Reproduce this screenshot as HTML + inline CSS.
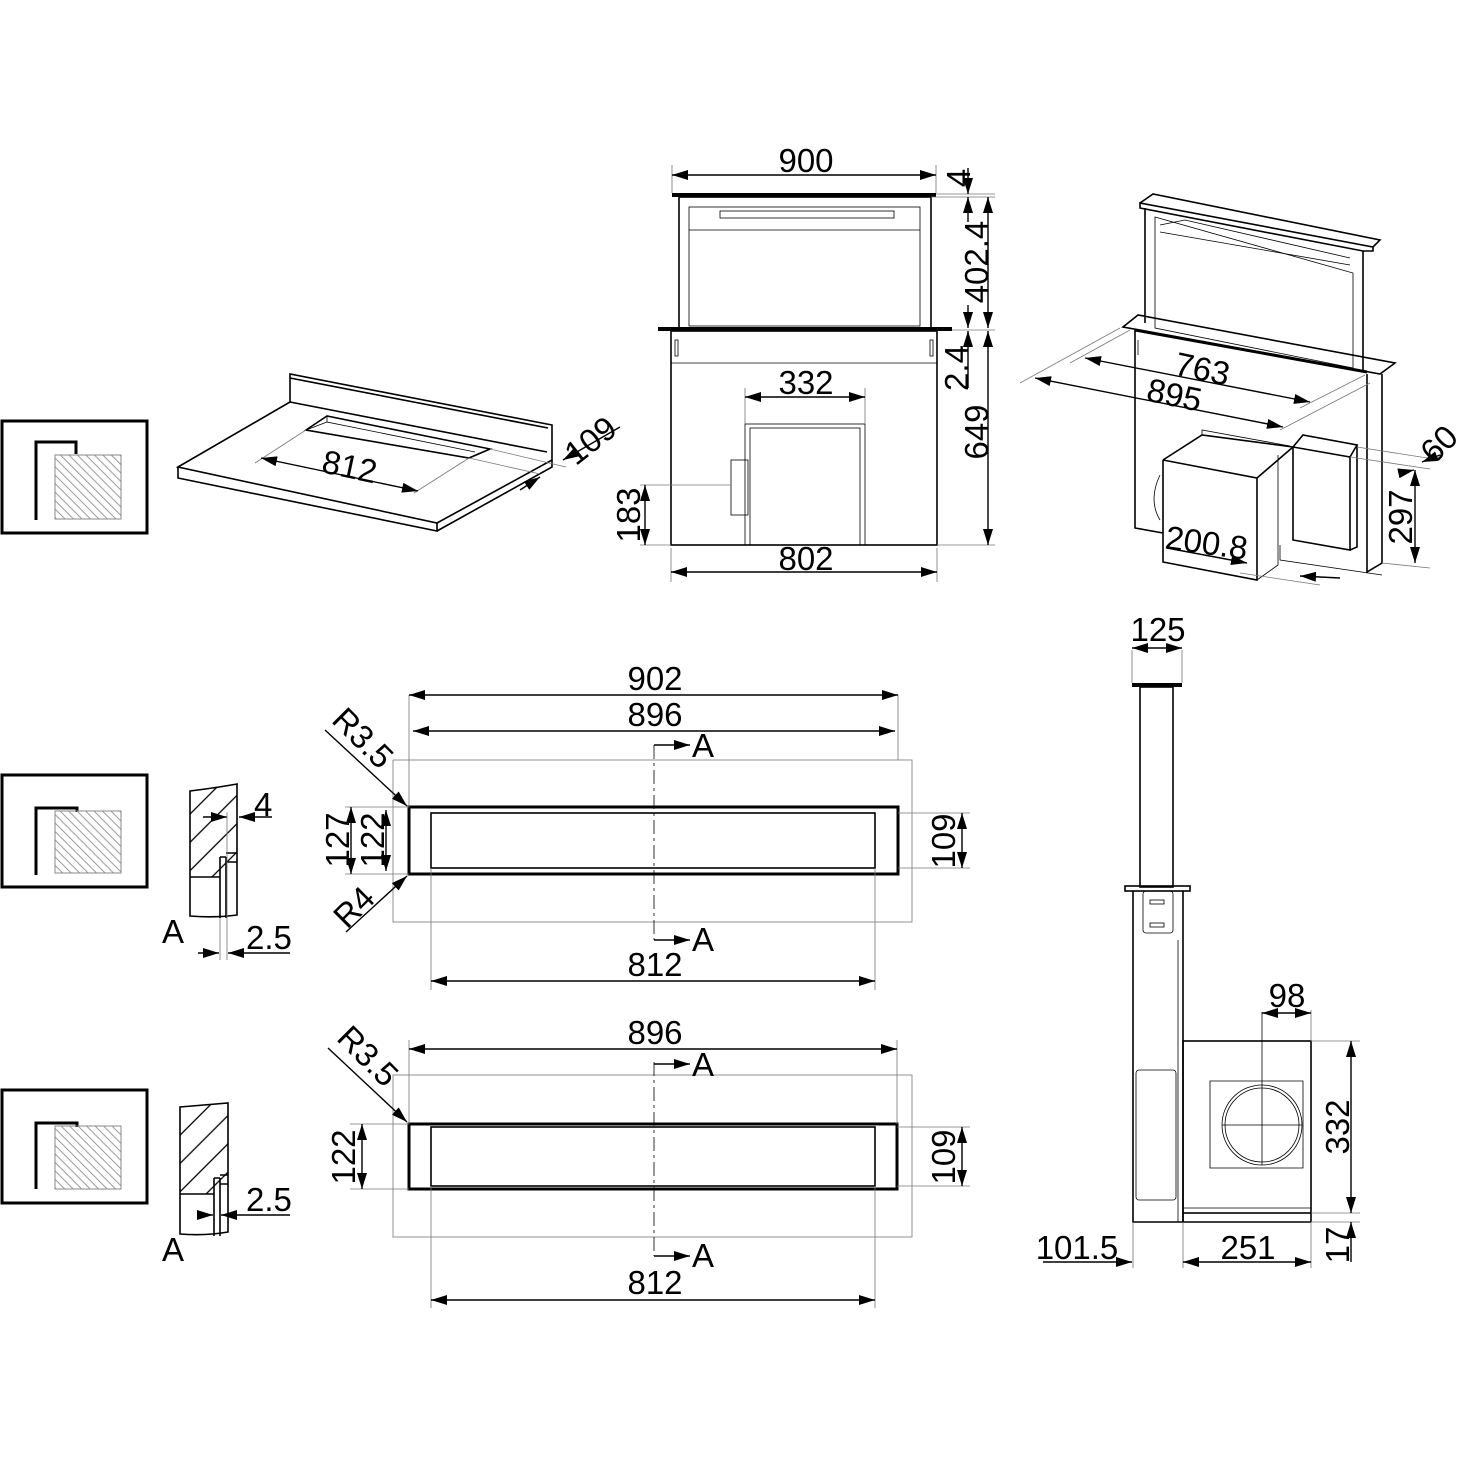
<!DOCTYPE html>
<html><head><meta charset="utf-8"><style>
html,body{margin:0;padding:0;background:#fff}
svg{display:block}
text{font-family:"Liberation Sans",sans-serif;font-size:33px;fill:#000}
.k{stroke:#000;fill:none;stroke-width:1.6}
.t{stroke:#000;fill:none;stroke-width:0.8}
.g{stroke:#777;fill:none;stroke-width:0.8}
.b{stroke:#000;fill:none;stroke-width:3}
.d{stroke:#000;fill:none;stroke-width:1.4}
</style></head><body>
<svg width="1459" height="1459" viewBox="0 0 1459 1459" xmlns="http://www.w3.org/2000/svg">
<defs>
<marker id="a" viewBox="0 0 16 10" refX="16" refY="5" markerWidth="16" markerHeight="10" markerUnits="userSpaceOnUse" orient="auto-start-reverse"><path d="M0,0L16,5L0,10z" fill="#000"/></marker>
<pattern id="h" width="6" height="6" patternUnits="userSpaceOnUse" patternTransform="rotate(-45)"><line x1="3" y1="0" x2="3" y2="6" stroke="#999" stroke-width="1"/></pattern>
<pattern id="h2" width="20" height="20" patternUnits="userSpaceOnUse" patternTransform="rotate(45)"><line x1="10" y1="0" x2="10" y2="20" stroke="#000" stroke-width="1.3"/></pattern>
</defs>

<g>
<rect x="2" y="421" width="145" height="112" class="b"/>
<path d="M36,520V442H76V454" class="b" stroke-width="2.5"/>
<rect x="55" y="455" width="66" height="64" fill="url(#h)" stroke="#888"/>
<rect x="2" y="775" width="145" height="112" class="b"/>
<path d="M36,875V808H77V812" class="b" stroke-width="2.5"/>
<rect x="55" y="811" width="66" height="62" fill="url(#h)" stroke="#888"/>
<rect x="2" y="1090" width="145" height="113" class="b"/>
<path d="M36,1189V1123H77V1127" class="b" stroke-width="2.5"/>
<rect x="55" y="1126" width="66" height="63" fill="url(#h)" stroke="#888"/>
</g>

<g>
<path d="M178,467L290,402V374L552,425V460L437,523L178,467Z" class="k"/>
<path d="M178,467V478L437,531V523M437,531L552,467V460" class="k"/>
<path d="M290,402L547,452M290,378L548,428" class="k"/>
<path d="M306,430L327,416L490,449L469,458L306,430Z" class="k"/>
<path d="M327,416V422L475,452M306,430L327,422" class="t"/>
<line x1="255" y1="463" x2="306" y2="430" class="g"/>
<line x1="414" y1="493" x2="469" y2="458" class="g"/>
<line x1="490" y1="449" x2="566" y2="467" class="g"/>
<line x1="469" y1="458" x2="540" y2="474" class="g"/>
<line x1="261" y1="458" x2="418" y2="491" class="d" marker-start="url(#a)" marker-end="url(#a)"/>
<text x="350" y="478" text-anchor="middle" transform="rotate(12 350 465)">812</text>
<line x1="520" y1="490" x2="540" y2="477" class="d" marker-end="url(#a)"/>
<line x1="620" y1="427" x2="563" y2="460" class="d" marker-end="url(#a)"/>
<text x="590" y="452" text-anchor="middle" transform="rotate(-38 590 440)">109</text>
</g>

<g>
<rect x="672" y="193" width="264" height="4" fill="#000"/>
<rect x="679" y="197" width="252" height="131" class="k"/>
<rect x="689" y="207" width="231" height="119" class="t"/>
<path d="M689,230H920" class="t"/>
<rect x="720" y="211" width="174" height="7" class="t"/>
<rect x="658" y="327" width="294" height="4" fill="#000"/>
<rect x="671" y="331" width="266" height="214" class="k"/>
<line x1="671" y1="363" x2="937" y2="363" class="t"/>
<rect x="675" y="340" width="3" height="16" class="t"/><rect x="930" y="340" width="3" height="16" class="t"/>
<rect x="745" y="424" width="120" height="121" class="t"/>
<rect x="750" y="428" width="110" height="117" class="t"/>
<rect x="731" y="460" width="17" height="55" class="t"/>
<line x1="640" y1="485" x2="731" y2="485" class="g"/>
<line x1="640" y1="545" x2="671" y2="545" class="g"/>
<line x1="745" y1="388" x2="745" y2="424" class="g"/><line x1="865" y1="388" x2="865" y2="424" class="g"/>
<line x1="672" y1="165" x2="672" y2="193" class="g"/><line x1="936" y1="165" x2="936" y2="193" class="g"/>
<line x1="672" y1="175" x2="936" y2="175" class="d" marker-start="url(#a)" marker-end="url(#a)"/>
<text x="806" y="172" text-anchor="middle">900</text>
<line x1="745" y1="397" x2="865" y2="397" class="d" marker-start="url(#a)" marker-end="url(#a)"/>
<text x="806" y="394" text-anchor="middle">332</text>
<line x1="671" y1="548" x2="671" y2="582" class="g"/><line x1="937" y1="548" x2="937" y2="582" class="g"/>
<line x1="671" y1="572" x2="937" y2="572" class="d" marker-start="url(#a)" marker-end="url(#a)"/>
<text x="806" y="570" text-anchor="middle">802</text>
<line x1="645" y1="485" x2="645" y2="545" class="d" marker-start="url(#a)" marker-end="url(#a)"/>
<text transform="translate(640,515) rotate(-90)" text-anchor="middle">183</text>
<line x1="936" y1="194" x2="995" y2="194" class="g"/>
<line x1="931" y1="197" x2="995" y2="197" class="g"/>
<line x1="952" y1="330" x2="995" y2="330" class="g"/>
<line x1="937" y1="545" x2="995" y2="545" class="g"/>
<line x1="968" y1="168" x2="968" y2="194" class="d" marker-end="url(#a)"/>
<line x1="968" y1="222" x2="968" y2="197" class="d" marker-end="url(#a)"/>
<line x1="968" y1="305" x2="968" y2="328" class="d" marker-end="url(#a)"/>
<line x1="968" y1="388" x2="968" y2="331" class="d" marker-end="url(#a)"/>
<line x1="988" y1="197" x2="988" y2="328" class="d" marker-start="url(#a)" marker-end="url(#a)"/>
<line x1="988" y1="331" x2="988" y2="545" class="d" marker-start="url(#a)" marker-end="url(#a)"/>
<text transform="translate(970,178) rotate(-90)" text-anchor="middle">4</text>
<text transform="translate(988,262) rotate(-90)" text-anchor="middle">402.4</text>
<text transform="translate(968,368) rotate(-90)" text-anchor="middle">2.4</text>
<text transform="translate(988,432) rotate(-90)" text-anchor="middle">649</text>
</g>

<g>
<path d="M1140,203L1153,194L1380,240L1373,247L1140,203V208L1363,251L1373,251V247" class="k"/>
<path d="M1145,208V323M1363,251V372" class="k"/>
<path d="M1155,217L1353,273V368L1155,328Z" class="t"/>
<path d="M1160,225L1185,220L1350,258M1160,232L1350,265" class="t"/>
<path d="M1123,327L1138,315L1395,363L1380,374Z" class="k"/>
<line x1="1135" y1="330" x2="1367" y2="372" stroke="#000" stroke-width="3"/>
<path d="M1135,330V528L1163,533M1367,374V572L1382,563V374" class="k"/>
<path d="M1138,340V355" class="t"/>
<path d="M1163,460L1202,435L1293,447M1163,460L1257,478L1293,447M1163,460V562L1257,580V478" class="k"/>
<path d="M1257,580L1278,565V455" class="t"/>
<path d="M1293,447L1303,435L1357,445L1350,457Z M1293,447V540L1350,550V457 M1357,445V547L1350,550" class="k"/>
<path d="M1202,435V430L1290,446" class="t"/>
<path d="M1280,545V560L1382,575" class="t"/>
<path d="M1160,475Q1148,500 1160,520" class="t"/>
<line x1="1020" y1="383" x2="1120" y2="328" class="g"/>
<line x1="1070" y1="363" x2="1130" y2="330" class="g"/>
<line x1="1280" y1="430" x2="1370" y2="383" class="g"/>
<line x1="1300" y1="408" x2="1365" y2="375" class="g"/>
<line x1="1085" y1="358" x2="1310" y2="402" class="d" marker-start="url(#a)" marker-end="url(#a)"/>
<text transform="translate(1200,380) rotate(12)" text-anchor="middle">763</text>
<line x1="1035" y1="378" x2="1283" y2="427" class="d" marker-start="url(#a)" marker-end="url(#a)"/>
<text transform="translate(1172,406) rotate(12)" text-anchor="middle">895</text>
<line x1="1350" y1="457" x2="1430" y2="469" class="g"/>
<line x1="1357" y1="447" x2="1440" y2="460" class="g"/>
<line x1="1382" y1="563" x2="1430" y2="568" class="g"/>
<line x1="1400" y1="473" x2="1414" y2="470" class="d" marker-end="url(#a)"/>
<line x1="1440" y1="455" x2="1422" y2="462" class="d" marker-end="url(#a)"/>
<text transform="translate(1447,452) rotate(-45)" text-anchor="middle">60</text>
<line x1="1415" y1="470" x2="1415" y2="563" class="d" marker-start="url(#a)" marker-end="url(#a)"/>
<text transform="translate(1412,517) rotate(-90)" text-anchor="middle">297</text>
<line x1="1167" y1="548" x2="1247" y2="563" class="d" marker-end="url(#a)"/>
<line x1="1340" y1="578" x2="1300" y2="576" class="d" marker-end="url(#a)"/>
<line x1="1240" y1="573" x2="1320" y2="585" class="g"/>
<text transform="translate(1205,554) rotate(8)" text-anchor="middle">200.8</text>
</g>

<g>
<rect x="393" y="760" width="519" height="162" class="g"/>
<rect x="409" y="807" width="489" height="67" class="b" stroke-width="2.5"/>
<rect x="431" y="813" width="444" height="55" class="k"/>
<line x1="409" y1="695" x2="409" y2="807" class="g"/><line x1="898" y1="695" x2="898" y2="760" class="g"/>
<line x1="431" y1="868" x2="431" y2="990" class="g"/><line x1="875" y1="868" x2="875" y2="990" class="g"/>
<line x1="409" y1="695" x2="898" y2="695" class="d" marker-start="url(#a)" marker-end="url(#a)"/>
<text x="655" y="690" text-anchor="middle">902</text>
<line x1="413" y1="731" x2="895" y2="731" class="d" marker-start="url(#a)" marker-end="url(#a)"/>
<text x="655" y="726" text-anchor="middle">896</text>
<line x1="431" y1="981" x2="875" y2="981" class="d" marker-start="url(#a)" marker-end="url(#a)"/>
<text x="655" y="976" text-anchor="middle">812</text>
<line x1="654" y1="745" x2="654" y2="940" class="t" stroke-dasharray="14,4,3,4"/>
<line x1="654" y1="745" x2="690" y2="745" class="d" marker-end="url(#a)"/>
<line x1="654" y1="940" x2="690" y2="940" class="d" marker-end="url(#a)"/>
<text x="692" y="757">A</text><text x="692" y="951">A</text>
<line x1="898" y1="813" x2="970" y2="813" class="g"/><line x1="898" y1="868" x2="970" y2="868" class="g"/>
<line x1="962" y1="813" x2="962" y2="868" class="d" marker-start="url(#a)" marker-end="url(#a)"/>
<text transform="translate(955,841) rotate(-90)" text-anchor="middle">109</text>
<line x1="345" y1="807" x2="409" y2="807" class="g"/><line x1="345" y1="874" x2="409" y2="874" class="g"/>
<line x1="351" y1="807" x2="351" y2="874" class="d" marker-start="url(#a)" marker-end="url(#a)"/>
<line x1="386" y1="810" x2="386" y2="871" class="d" marker-start="url(#a)" marker-end="url(#a)"/>
<text transform="translate(349,840) rotate(-90)" text-anchor="middle">127</text>
<text transform="translate(384,840) rotate(-90)" text-anchor="middle">122</text>
<line x1="325" y1="730" x2="407" y2="806" class="d" marker-end="url(#a)"/>
<text transform="translate(355,746) rotate(45)" text-anchor="middle">R3.5</text>
<line x1="346" y1="932" x2="407" y2="876" class="d" marker-end="url(#a)"/>
<text transform="translate(362,915) rotate(-45)" text-anchor="middle">R4</text>
<path d="M190,791Q215,788 237,784V877H190Z" fill="url(#h2)" stroke="none"/>
<path d="M190,791Q215,788 237,784V915Q215,918 190,916Z" class="k"/>
<path d="M190,877H220" class="k"/>
<path d="M220,857V918M226,857V918M220,857H226M226,853H237M226,862H237" class="k"/>
<line x1="203" y1="817" x2="227" y2="817" class="d" marker-end="url(#a)"/>
<line x1="272" y1="817" x2="239" y2="817" class="d" marker-end="url(#a)"/>
<line x1="227" y1="812" x2="227" y2="960" class="g"/>
<line x1="220" y1="918" x2="220" y2="960" class="g"/>
<text x="254" y="816">4</text>
<line x1="198" y1="953" x2="219" y2="953" class="d" marker-end="url(#a)"/>
<line x1="290" y1="953" x2="228" y2="953" class="d" marker-end="url(#a)"/>
<text x="246" y="949">2.5</text>
<text x="162" y="943">A</text>
</g>

<g>
<rect x="393" y="1075" width="519" height="162" class="g"/>
<rect x="409" y="1124" width="488" height="65" class="b" stroke-width="2.5"/>
<rect x="431" y="1127" width="444" height="59" class="k"/>
<line x1="409" y1="1040" x2="409" y2="1124" class="g"/><line x1="897" y1="1040" x2="897" y2="1124" class="g"/>
<line x1="431" y1="1186" x2="431" y2="1308" class="g"/><line x1="875" y1="1186" x2="875" y2="1308" class="g"/>
<line x1="409" y1="1049" x2="897" y2="1049" class="d" marker-start="url(#a)" marker-end="url(#a)"/>
<text x="655" y="1044" text-anchor="middle">896</text>
<line x1="431" y1="1300" x2="875" y2="1300" class="d" marker-start="url(#a)" marker-end="url(#a)"/>
<text x="655" y="1294" text-anchor="middle">812</text>
<line x1="654" y1="1062" x2="654" y2="1256" class="t" stroke-dasharray="14,4,3,4"/>
<line x1="654" y1="1064" x2="690" y2="1064" class="d" marker-end="url(#a)"/>
<line x1="654" y1="1256" x2="690" y2="1256" class="d" marker-end="url(#a)"/>
<text x="692" y="1076">A</text><text x="692" y="1267">A</text>
<line x1="897" y1="1127" x2="970" y2="1127" class="g"/><line x1="897" y1="1186" x2="970" y2="1186" class="g"/>
<line x1="962" y1="1127" x2="962" y2="1186" class="d" marker-start="url(#a)" marker-end="url(#a)"/>
<text transform="translate(955,1157) rotate(-90)" text-anchor="middle">109</text>
<line x1="350" y1="1124" x2="409" y2="1124" class="g"/><line x1="350" y1="1189" x2="409" y2="1189" class="g"/>
<line x1="362" y1="1124" x2="362" y2="1189" class="d" marker-start="url(#a)" marker-end="url(#a)"/>
<text transform="translate(355,1157) rotate(-90)" text-anchor="middle">122</text>
<line x1="328" y1="1048" x2="407" y2="1122" class="d" marker-end="url(#a)"/>
<text transform="translate(360,1064) rotate(45)" text-anchor="middle">R3.5</text>
<path d="M180,1107Q205,1105 228,1103V1194H180Z" fill="url(#h2)" stroke="none"/>
<path d="M180,1107Q205,1105 228,1103V1232Q205,1236 180,1234Z" class="k"/>
<path d="M180,1194H214" class="k"/>
<path d="M214,1178V1236M220,1178V1236M214,1178H220M220,1175H228M220,1184H228" class="k"/>
<line x1="200" y1="1215" x2="213" y2="1215" class="d" marker-end="url(#a)"/>
<line x1="290" y1="1215" x2="221" y2="1215" class="d" marker-end="url(#a)"/>
<text x="246" y="1211">2.5</text>
<text x="162" y="1261">A</text>
</g>

<g>
<rect x="1132" y="683" width="50" height="4" fill="#000"/>
<rect x="1140" y="687" width="33" height="200" class="k"/>
<rect x="1125" y="886" width="65" height="5" class="k"/>
<path d="M1133,891V1222H1183V891" class="k"/>
<path d="M1178,940V1222" class="t"/>
<rect x="1143" y="891" width="30" height="42" rx="3" class="t"/>
<rect x="1150" y="900" width="14" height="4" class="t"/><rect x="1150" y="923" width="14" height="4" class="t"/>
<rect x="1136" y="1070" width="40" height="130" rx="3" class="t"/>
<rect x="1183" y="1041" width="128" height="172" class="k"/>
<line x1="1183" y1="1213" x2="1183" y2="1222" class="k"/>
<line x1="1183" y1="1222" x2="1311" y2="1222" class="k"/>
<line x1="1311" y1="1213" x2="1311" y2="1222" class="k"/>
<line x1="1183" y1="1208" x2="1311" y2="1208" class="t"/>
<path d="M1210,1081H1303V1168H1210Z" class="t"/>
<circle cx="1262" cy="1125" r="40" class="t"/><circle cx="1262" cy="1125" r="37" class="t"/>
<path d="M1262,1085V1165M1222,1125H1302" class="t"/>
<line x1="1132" y1="650" x2="1132" y2="683" class="g"/><line x1="1182" y1="650" x2="1182" y2="683" class="g"/>
<line x1="1132" y1="648" x2="1182" y2="648" class="d" marker-start="url(#a)" marker-end="url(#a)"/>
<text x="1158" y="641" text-anchor="middle">125</text>
<line x1="1262" y1="1012" x2="1262" y2="1085" class="t"/><line x1="1311" y1="1010" x2="1311" y2="1041" class="g"/>
<line x1="1262" y1="1013" x2="1311" y2="1013" class="d" marker-start="url(#a)" marker-end="url(#a)"/>
<text x="1287" y="1007" text-anchor="middle">98</text>
<line x1="1311" y1="1041" x2="1360" y2="1041" class="g"/><line x1="1311" y1="1213" x2="1360" y2="1213" class="g"/><line x1="1311" y1="1222" x2="1360" y2="1222" class="g"/>
<line x1="1351" y1="1041" x2="1351" y2="1213" class="d" marker-start="url(#a)" marker-end="url(#a)"/>
<text transform="translate(1349,1127) rotate(-90)" text-anchor="middle">332</text>
<line x1="1351" y1="1262" x2="1351" y2="1222" class="d" marker-end="url(#a)"/>
<text transform="translate(1349,1245) rotate(-90)" text-anchor="middle">17</text>
<line x1="1133" y1="1222" x2="1133" y2="1268" class="g"/><line x1="1183" y1="1222" x2="1183" y2="1268" class="g"/><line x1="1311" y1="1222" x2="1311" y2="1268" class="g"/>
<line x1="1183" y1="1262" x2="1311" y2="1262" class="d" marker-start="url(#a)" marker-end="url(#a)"/>
<text x="1248" y="1259" text-anchor="middle">251</text>
<line x1="1043" y1="1262" x2="1132" y2="1262" class="d" marker-end="url(#a)"/>
<text x="1077" y="1259" text-anchor="middle">101.5</text>
</g>
</svg>
</body></html>
